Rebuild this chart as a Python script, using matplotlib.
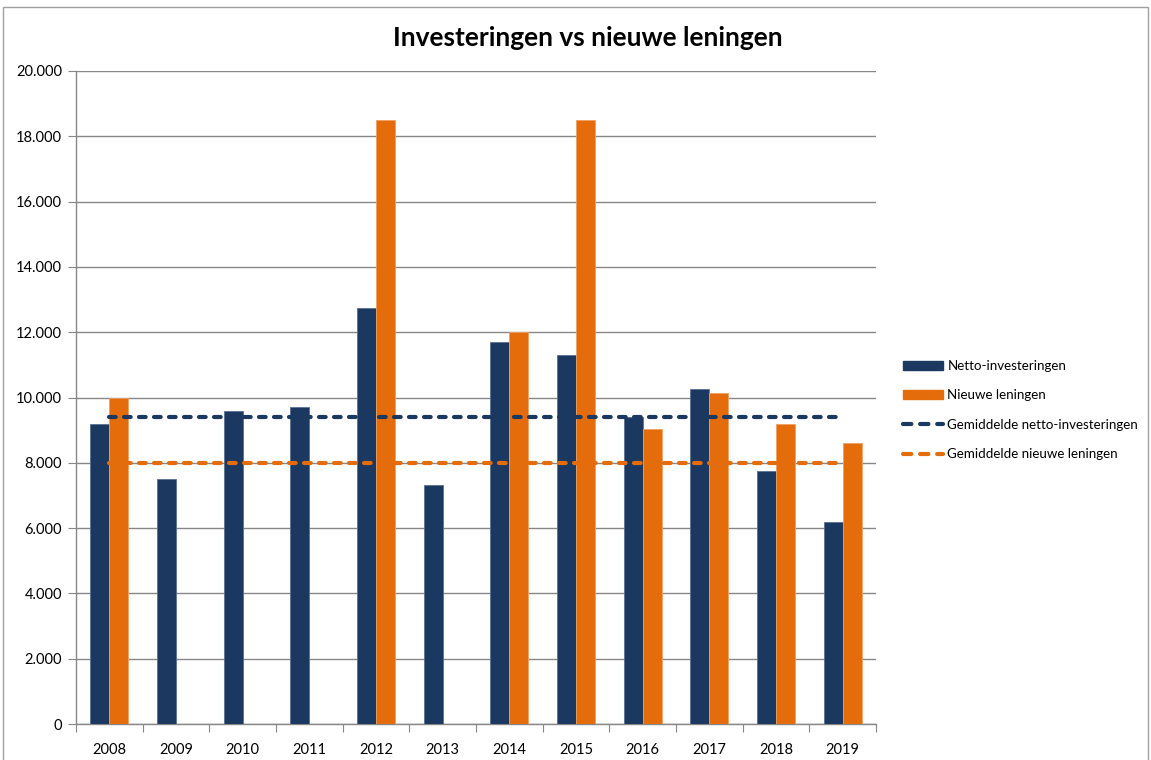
import matplotlib
matplotlib.use("Agg")
import matplotlib.pyplot as plt
from matplotlib.patches import Rectangle, Patch
from matplotlib.lines import Line2D
import numpy as np

jaren = ['2008', '2009', '2010', '2011', '2012', '2013', '2014', '2015', '2016', '2017', '2018', '2019']
netto_inv = [9200, 7500, 9600, 9700, 12750, 7320, 11700, 11300, 9400, 10250, 7750, 6200]
nieuwe_len = [10000, 0, 0, 0, 18500, 0, 12000, 18500, 9050, 10150, 9200, 8600]
gem_netto = 9400
gem_nieuw = 8000
yticks = [0, 2000, 4000, 6000, 8000, 10000, 12000, 14000, 16000, 18000, 20000]
ylabels = ['0', '2.000', '4.000', '6.000', '8.000', '10.000', '12.000', '14.000',
           '16.000', '18.000', '20.000']

navy = '#1a3860'
oranje = '#e46c0a'
grijs = '#878787'
fnt = ['Lato', 'DejaVu Sans']
fnt_narrow = ['Liberation Sans Narrow', 'Lato', 'DejaVu Sans']
streep = (0, (1.6, 2.0))
streep_leg = (0, (2.0, 2.1))

fig = plt.figure(figsize=(11.51, 7.6), dpi=100)
ax = fig.add_axes([76/1151, 1-724/760, 800/1151, 653/760])

x = np.arange(len(jaren))
w = 0.285
ax.bar(x - w/2, netto_inv, w, color=navy, edgecolor='#5a7090', linewidth=0.6, zorder=3)
ax.bar(x + w/2, nieuwe_len, w, color=oranje, edgecolor='#f0a060', linewidth=0.6, zorder=3)
ax.plot(x, [gem_netto]*len(x), color=navy, ls=streep, lw=3, dash_capstyle='round', zorder=4)
ax.plot(x, [gem_nieuw]*len(x), color=oranje, ls=streep, lw=3, dash_capstyle='round', zorder=4)

ax.set_xlim(-0.5, len(jaren) - 0.5)
ax.set_ylim(0, 20000)
ax.set_yticks(yticks)
ax.set_yticklabels(ylabels, family=fnt_narrow, fontsize=10.5)
ax.set_xticks(np.arange(-0.5, len(jaren)), minor=False)
ax.set_xticklabels([])
ax.set_xticks(x, minor=True)
ax.set_xticklabels(jaren, minor=True, family=fnt_narrow, fontsize=10.5)
ax.tick_params(axis='x', which='minor', length=0, pad=14)
ax.tick_params(axis='x', which='major', length=6, color=grijs, direction='out')
ax.tick_params(axis='y', length=6, color=grijs, direction='out', pad=4)
ax.grid(axis='y', color=grijs, lw=1, zorder=0)
for s in ['top', 'right']:
    ax.spines[s].set_visible(False)
for s in ['left', 'bottom']:
    ax.spines[s].set_color(grijs)
    ax.spines[s].set_linewidth(1)

fig.text(588/1151, 1-38/760, 'Investeringen vs nieuwe leningen', ha='center', va='center',
         fontsize=19, fontweight='bold', family=fnt)

handles = [Patch(facecolor=navy, edgecolor=navy),
           Patch(facecolor=oranje, edgecolor=oranje),
           Line2D([0], [0], color=navy, ls=streep_leg, lw=3, dash_capstyle='round'),
           Line2D([0], [0], color=oranje, ls=streep_leg, lw=3, dash_capstyle='round')]
labels = ['Netto-investeringen', 'Nieuwe leningen', 'Gemiddelde netto-investeringen',
          'Gemiddelde nieuwe leningen']
fig.legend(handles, labels, loc='center left', bbox_to_anchor=(898/1151, 1-410/760),
           frameon=False, prop={'family': fnt, 'size': 9.6}, handlelength=3.0,
           handleheight=0.6, handletextpad=0.3, labelspacing=1.3, borderaxespad=0)

fig.patches.append(Rectangle((3/1151, -0.01), 1145/1151, 1.01 - 7/760, transform=fig.transFigure,
                             fill=False, edgecolor='#a0a0a0', lw=1))

plt.savefig('out.png', dpi=100)
